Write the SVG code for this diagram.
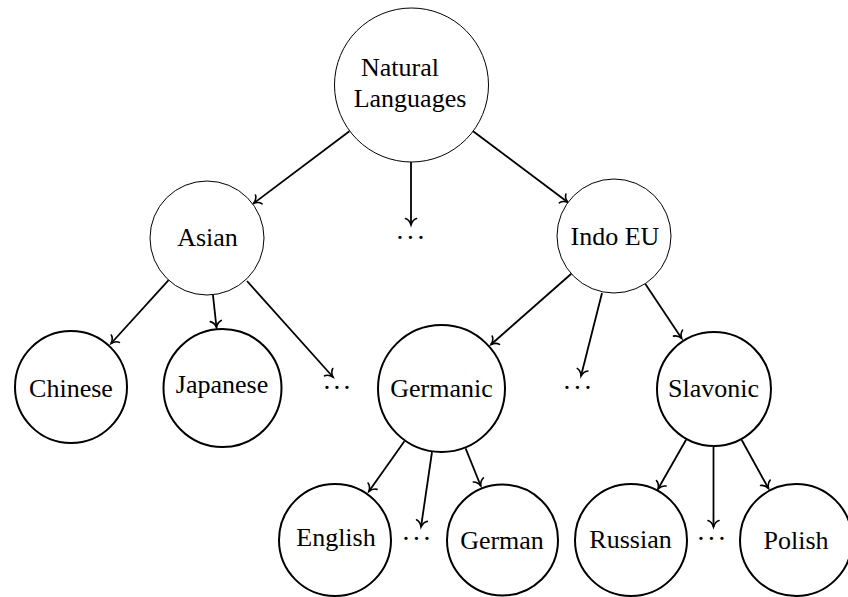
<svg xmlns="http://www.w3.org/2000/svg" width="848" height="597" viewBox="0 0 848 597">
<style>
.thin{fill:#fff;stroke:#000;stroke-width:1}
.thick{fill:#fff;stroke:#000;stroke-width:2}
text{font-family:"Liberation Serif","Times New Roman",serif;font-size:26px;fill:#000;text-anchor:middle}
.dots{font-size:28px}
.edge{stroke:#000;stroke-width:1.8;fill:none;marker-end:url(#arr)}
</style>
<defs>
<marker id="arr" markerUnits="userSpaceOnUse" orient="auto" markerWidth="16" markerHeight="16" refX="0" refY="0" viewBox="-10 -8 12 16" overflow="visible">
<path d="M-6.5,-5.5 C-5.5,-2.5 -2,-0.6 0,0 C-2,0.6 -5.5,2.5 -6.5,5.5" fill="none" stroke="#000" stroke-width="1.6" stroke-linecap="round"/>
</marker>
</defs>
<rect width="848" height="597" fill="#fff"/>
<g id="connectors">
<line class="edge" x1="349.4" y1="131.2" x2="253.6" y2="203.4"/>
<line class="edge" x1="411" y1="162" x2="411" y2="225"/>
<line class="edge" x1="472.8" y1="131" x2="567.8" y2="202.3"/>
<line class="edge" x1="168.6" y1="280.1" x2="111" y2="343.5"/>
<line class="edge" x1="212.9" y1="294.7" x2="216.5" y2="327.5"/>
<line class="edge" x1="247" y1="281" x2="333" y2="377"/>
<line class="edge" x1="571.3" y1="273.8" x2="491" y2="344.5"/>
<line class="edge" x1="602" y1="293" x2="581" y2="376"/>
<line class="edge" x1="645.2" y1="283.7" x2="681.7" y2="338.5"/>
<line class="edge" x1="404.4" y1="441.3" x2="368.8" y2="491.5"/>
<line class="edge" x1="432" y1="452" x2="421" y2="527"/>
<line class="edge" x1="465.6" y1="448.3" x2="480.8" y2="486"/>
<line class="edge" x1="686.1" y1="439.8" x2="658" y2="489"/>
<line class="edge" x1="713.5" y1="447" x2="713.5" y2="527"/>
<line class="edge" x1="741.7" y1="440" x2="768.5" y2="488.5"/>
</g>
<g id="natural-languages"><circle class="thin" cx="411.5" cy="85" r="77"/><text x="400" y="76">Natural</text><text x="410" y="107">Languages</text></g>
<g id="asian"><circle class="thin" cx="207" cy="238" r="57"/><text x="207.5" y="245.5">Asian</text></g>
<g id="dots-1"><text class="dots" x="400 410.5 421" y="247">···</text></g>
<g id="indo-eu"><circle class="thin" cx="614" cy="236" r="57"/><text x="615" y="245">Indo EU</text></g>
<g id="chinese"><circle class="thick" cx="71" cy="387" r="56"/><text x="71" y="397">Chinese</text></g>
<g id="japanese"><circle class="thick" cx="222.5" cy="388" r="59"/><text x="222" y="393">Japanese</text></g>
<g id="dots-2"><text class="dots" x="327 337 347" y="397">···</text></g>
<g id="germanic"><circle class="thick" cx="441.5" cy="388.5" r="63.5"/><text x="441.5" y="397">Germanic</text></g>
<g id="dots-3"><text class="dots" x="567 577.5 588" y="397">···</text></g>
<g id="slavonic"><circle class="thick" cx="714" cy="389" r="57"/><text x="713.5" y="397">Slavonic</text></g>
<g id="english"><circle class="thick" cx="335" cy="540" r="56"/><text x="336" y="546">English</text></g>
<g id="dots-4"><text class="dots" x="406 416.5 427" y="548">···</text></g>
<g id="german"><circle class="thick" cx="502.5" cy="540" r="55.5"/><text x="502" y="549">German</text></g>
<g id="russian"><circle class="thick" cx="631" cy="540" r="56"/><text x="630.5" y="548">Russian</text></g>
<g id="dots-5"><text class="dots" x="701 711.5 722" y="548">···</text></g>
<g id="polish"><circle class="thick" cx="796" cy="540" r="56"/><text x="796" y="549">Polish</text></g>
</svg>
